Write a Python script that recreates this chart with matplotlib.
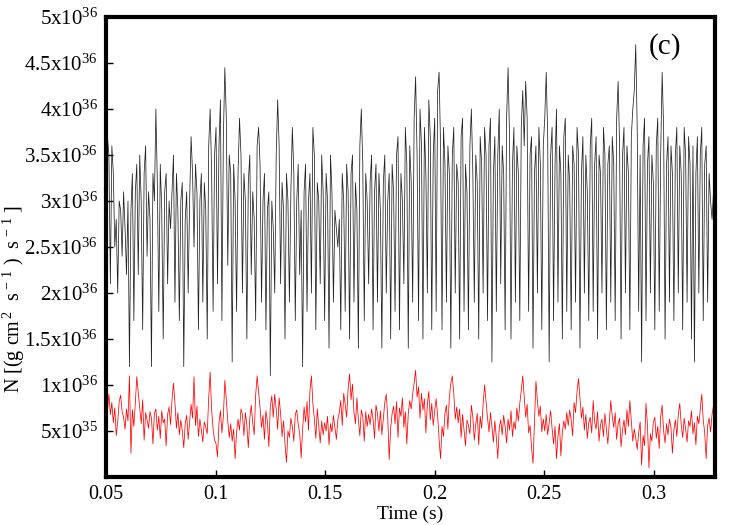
import numpy as np
import matplotlib.pyplot as plt

plt.rcParams['font.family'] = ['Liberation Serif', 'DejaVu Serif']
plt.rcParams['mathtext.fontset'] = 'custom'
plt.rcParams['mathtext.rm'] = 'Liberation Serif'
plt.rcParams['mathtext.it'] = 'Liberation Serif:italic'

# torque series, in units of 1e35 (~15 samples per 0.01 s)
black_vals = [
    30, 37, 35, 21, 36, 33, 25, 28, 20, 30, 29, 24, 31, 27, 22,
    30, 12, 29, 33, 17, 31, 34, 22, 35, 30, 16, 33, 36, 24, 31,
    28, 12, 33, 30, 40, 32, 18, 34, 29, 15, 31, 33, 21, 30, 27,
    31, 35, 19, 33, 29, 17, 30, 32, 12, 28, 31, 20, 30, 37, 33,
    25, 34, 31, 16, 30, 33, 19, 32, 29, 15, 36, 40, 33, 18, 35,
    38, 21, 36, 41, 17, 37, 44.5, 39, 23, 35, 33, 12.5, 34, 30, 18,
    33, 39, 35, 20, 33, 30, 15, 32, 35, 22, 31, 28, 17, 36, 38,
    34, 19, 30, 33, 16, 29, 31, 11, 30, 27, 20, 35, 41, 36, 21,
    32, 29, 15, 33, 30, 19, 31, 38, 33, 17, 30, 34, 22, 29, 12,
    31, 34, 18, 30, 33, 20, 38, 35, 16, 32, 30, 21, 35, 31, 17,
    33, 30, 14, 35, 31, 19, 29, 27, 25, 28, 16, 33, 30, 18, 34,
    31, 15, 33, 35, 19, 32, 29, 14, 36, 40, 34, 17, 33, 30, 21,
    32, 35, 16, 31, 34, 19, 33, 29, 14, 32, 35, 20, 30, 33, 15,
    34, 31, 18, 35, 37, 16, 33, 30, 21, 38, 34, 14, 36, 32, 19,
    39, 43.5, 35, 17, 40, 36, 15, 38, 33, 20, 41, 37, 16, 35, 39,
    18, 42, 44, 36, 16, 38, 34, 19, 36, 33, 14, 35, 38, 20, 34,
    32, 15, 37, 39, 18, 34, 31, 16, 36, 40, 33, 19, 35, 32, 15,
    37, 34, 20, 38, 35, 17, 36, 39, 12.5, 33, 37, 18, 35, 40, 21,
    36, 33, 16, 39, 44.5, 37, 15, 34, 38, 19, 36, 33, 17, 38, 42,
    36, 43, 39, 18, 35, 37, 14, 33, 36, 20, 38, 34, 16, 36, 39,
    44, 37, 12.5, 35, 38, 17, 34, 40, 19, 36, 33, 15, 37, 39, 18,
    35, 32, 16, 36, 34, 19, 38, 35, 14, 33, 37, 20, 35, 31, 17,
    36, 39, 18, 34, 37, 15, 35, 33, 20, 38, 35, 16, 34, 36, 19,
    37, 34, 17, 39, 43, 36, 15, 35, 38, 20, 36, 33, 16, 37, 40,
    42, 47, 38, 18, 35, 12.5, 36, 39, 17, 34, 37, 20, 35, 32, 16,
    36, 39, 18, 35, 44, 38, 15, 34, 37, 19, 36, 33, 17, 35, 38,
    20, 36, 33, 16, 38, 35, 19, 37, 34, 15, 36, 12.5, 33, 37, 20,
    35, 38, 17, 34, 36, 19, 33, 30, 28, 31, 29,
]

red_vals = [
    8.5, 7.2, 9.0, 6.8, 8.1, 5.9, 7.5, 4.5, 6.0, 8.2, 8.9, 7.1, 6.5, 5.2, 7.4,
    6.1, 11.0, 2.6, 7.3, 5.5, 8.0, 10.9, 9.2, 7.6, 5.8, 8.4, 4.0, 7.0, 6.2, 5.3,
    7.1, 6.4, 3.6, 6.9, 7.4, 5.1, 6.6, 4.2, 7.2, 5.9, 6.3, 3.4, 6.8, 7.6, 5.7,
    8.4, 10.2, 8.1, 5.3, 7.0, 4.6, 6.2, 5.0, 3.2, 5.8, 6.7, 4.1, 6.0, 7.9, 6.4,
    10.9, 5.6, 7.7, 4.4, 6.3, 5.1, 3.8, 6.0, 5.4, 4.7, 8.6, 11.4, 7.3, 5.2, 4.0,
    3.6, 2.2, 5.9, 7.2, 4.8, 6.6, 10.5, 8.4, 6.1, 4.3, 5.8, 3.9, 5.2, 2.0, 4.9,
    6.3, 5.1, 7.4, 6.8, 4.5, 7.0, 5.6, 3.2, 6.4, 7.8, 5.9, 4.6, 8.9, 11.0, 9.3,
    7.5, 5.4, 6.7, 4.1, 7.2, 6.0, 3.3, 7.7, 8.8, 6.5, 9.0, 7.4, 5.2, 8.6, 6.9,
    4.4, 6.1, 3.6, 1.6, 5.0, 4.3, 6.4, 5.5, 3.9, 6.8, 7.3, 5.7, 4.8, 2.1, 5.2,
    7.6, 6.0, 8.2, 5.1, 9.4, 11.0, 8.0, 6.3, 4.2, 7.4, 5.5, 3.7, 6.1, 4.6, 5.9,
    5.0, 6.6, 3.5, 5.8, 4.9, 6.7, 5.4, 4.1, 6.2, 7.0, 8.3, 5.6, 9.1, 7.9, 6.5,
    9.6, 11.2, 8.4, 10.1, 7.0, 5.8, 8.6, 6.2, 4.5, 7.3, 6.6, 3.9, 7.1, 5.5, 6.8,
    5.7, 7.4, 6.3, 4.2, 7.8, 6.9, 5.0, 7.2, 4.6, 6.4, 8.1, 9.0, 6.5, 1.9, 5.3,
    6.9, 7.7, 5.8, 8.2, 4.3, 7.5, 6.6, 8.6, 5.4, 7.1, 3.6, 6.9, 8.3, 7.4, 9.0,
    10.2, 11.6, 8.7, 9.8, 6.4, 9.1, 7.3, 8.5, 4.8, 7.9, 9.3, 6.2, 8.0, 5.6, 7.2,
    8.5, 6.7, 4.1, 2.0, 5.5, 4.4, 6.9, 7.8, 5.2, 8.8, 10.2, 11.0, 9.1, 6.3, 7.6,
    5.9, 7.4, 4.3, 6.8, 5.1, 3.4, 6.2, 5.6, 4.7, 7.8, 6.5, 4.0, 5.8, 6.9, 3.5,
    6.6, 5.3, 7.9, 10.0, 8.2, 6.4, 4.9, 7.0, 5.5, 3.8, 6.1, 4.3, 2.0, 5.4, 6.2,
    4.6, 6.7, 5.5, 3.7, 6.3, 5.1, 7.2, 4.4, 6.0, 5.2, 7.5, 6.1, 8.0, 9.4, 11.0,
    8.7, 6.5, 7.9, 4.8, 5.6, 3.2, 1.5, 6.0, 10.4, 8.3, 6.6, 7.7, 4.9, 6.3, 5.0,
    6.8, 4.6, 5.9, 7.2, 5.3, 3.6, 5.5, 2.0, 4.4, 5.8, 2.3, 4.9, 6.1, 5.2, 7.0,
    5.6, 7.3, 6.2, 4.5, 8.1, 7.0, 9.3, 10.7, 8.5, 6.4, 7.6, 5.1, 6.8, 4.2, 5.9,
    6.5, 4.8, 8.3, 6.0, 5.2, 7.1, 3.9, 5.7, 6.3, 4.4, 6.9, 5.3, 3.6, 6.0, 8.3,
    6.6, 5.4, 7.0, 4.1, 5.8, 6.4, 3.3, 5.1, 6.2, 4.6, 7.3, 5.5, 8.3, 6.1, 3.9,
    5.2, 4.3, 3.0, 4.8, 6.0, 1.3, 4.5, 3.4, 8.0, 5.6, 1.0, 4.7, 3.9, 5.9, 6.5,
    4.2, 5.5, 3.1, 6.6, 7.8, 5.0, 3.7, 5.8, 4.6, 6.3, 5.4, 2.6, 5.1, 6.2, 4.4,
    6.8, 8.0, 5.7, 4.3, 6.4, 5.2, 3.8, 6.1, 5.5, 7.2, 4.7, 5.9, 3.5, 6.6, 5.8,
    7.4, 9.0, 6.2, 4.8, 2.0, 5.6, 6.4, 4.9, 6.8, 7.8, 6.5,
]

t_start, t_end = 0.05, 0.328
x_ticks = [0.05, 0.1, 0.15, 0.2, 0.25, 0.3]
x_ticklabels = ['0.05', '0.1', '0.15', '0.2', '0.25', '0.3']
y_ticks = [5e35, 1e36, 1.5e36, 2e36, 2.5e36, 3e36, 3.5e36, 4e36, 4.5e36, 5e36]
y_ticklabels = [r'$5\mathrm{x}10^{35}$', r'$1\mathrm{x}10^{36}$', r'$1.5\mathrm{x}10^{36}$',
                r'$2\mathrm{x}10^{36}$', r'$2.5\mathrm{x}10^{36}$', r'$3\mathrm{x}10^{36}$',
                r'$3.5\mathrm{x}10^{36}$', r'$4\mathrm{x}10^{36}$', r'$4.5\mathrm{x}10^{36}$',
                r'$5\mathrm{x}10^{36}$']

black = np.array(black_vals) * 1e35
red = np.array(red_vals) * 1e35
t_black = np.linspace(t_start, t_end, len(black))
t_red = np.linspace(t_start, t_end, len(red))

fig = plt.figure(figsize=(7.5, 5.25), dpi=100)
ax = fig.add_axes([0.1413, 0.0914, 0.812, 0.8762])

ax.plot(t_black, black, color='#222222', lw=0.55)
ax.plot(t_red, red, color='red', lw=0.55)

ax.set_xlim(t_start, t_end)
ax.set_ylim(0, 5e36)
ax.set_xticks(x_ticks)
ax.set_xticklabels(x_ticklabels, fontsize=14.5)
ax.set_yticks(y_ticks)
ax.set_yticklabels(y_ticklabels, fontsize=15)

for s in ax.spines.values():
    s.set_linewidth(3)
ax.tick_params(direction='in', length=5, width=1, pad=6)

ax.set_xlabel('Time (s)', fontsize=14, labelpad=1)
# y label placed by hand: it sits low and close to the figure edge in the original
fig.text(0.018, 0.43, r'N [(g cm$^{\,2}$  s$^{\,-\,1}$ )  s$^{\,-\,1}$ ]',
         rotation=90, ha='center', va='center', fontsize=14.5)
ax.text(0.945, 0.935, '(c)', transform=ax.transAxes, fontsize=21, ha='right', va='center')

fig.savefig('out.png', dpi=100)
